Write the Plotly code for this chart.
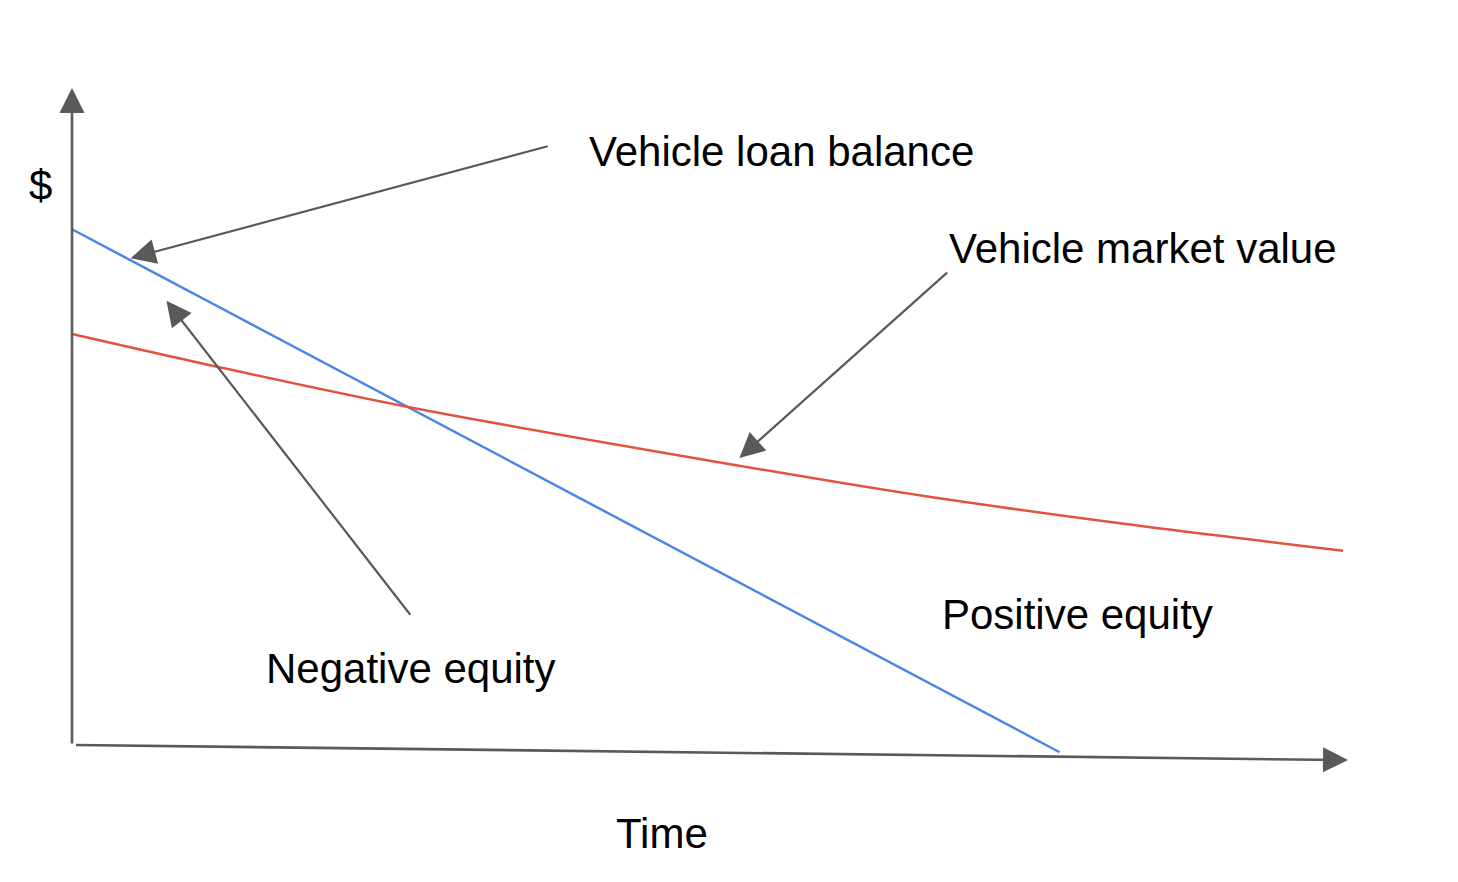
import plotly.graph_objects as go

# Conceptual data (time units 0..10, dollar units 0..10)
loan_time = [0.0, 7.74]
loan_balance = [7.85, -0.11]

market_time = [0.0, 1.136, 2.727, 6.489, 8.213, 9.961]
market_value = [6.256, 5.758, 5.110, 3.846, 3.374, 2.957]

labels = ["$", "Vehicle loan balance", "Vehicle market value",
          "Positive equity", "Negative equity", "Time"]

LOAN_COLOR = "#4a86e8"
MARKET_COLOR = "#e2533f"
ARROW_COLOR = "#595959"
FONT = "Liberation Sans, Arial, sans-serif"

# page has an 8px body margin; figure drawn slightly smaller to fit the window
W, H = 1450, 874
X_PX, Y_PX = 127.6, 65.7        # pixels per unit
X0, Y0 = 64, 737                # figure pixel of origin

fig = go.Figure()
fig.add_trace(go.Scatter(x=loan_time, y=loan_balance, mode="lines",
                         line=dict(color=LOAN_COLOR, width=2.5), hoverinfo="skip"))
fig.add_trace(go.Scatter(x=market_time, y=market_value, mode="lines",
                         line=dict(color=MARKET_COLOR, width=2.5, shape="spline",
                                   smoothing=0.8), hoverinfo="skip"))

def arrow(x, y, ax, ay, width=2.2):
    fig.add_annotation(x=x, y=y, ax=ax, ay=ay, xref="x", yref="y",
                       axref="x", ayref="y", text="", showarrow=True,
                       arrowhead=2, arrowsize=5.0 / width, arrowwidth=width,
                       arrowcolor=ARROW_COLOR, standoff=0, startstandoff=0)

# axes arrows
arrow(0.0, 10.0, 0.0, 0.0, width=2.6)
arrow(10.0, -0.23, 0.02, 0.0, width=2.6)
# pointer arrows
arrow(0.46, 7.41, 3.74, 9.12)
arrow(5.23, 4.37, 6.87, 7.21)
arrow(0.74, 6.76, 2.66, 1.96)

label_pos = [(-0.243, 8.51), (5.56, 9.03), (8.39, 7.56),
             (7.88, 1.99), (2.66, 1.17), (4.62, -1.35)]
for txt, (lx, ly) in zip(labels, label_pos):
    fig.add_annotation(x=lx, y=ly, xref="x", yref="y", text=txt,
                       showarrow=False, xanchor="center", yanchor="middle",
                       font=dict(family=FONT, size=42, color="black"))

fig.update_layout(
    width=W, height=H, autosize=False,
    margin=dict(l=0, r=0, t=0, b=0),
    paper_bgcolor="white", plot_bgcolor="white",
    showlegend=False,
    xaxis=dict(visible=False, range=[-X0 / X_PX, (W - X0) / X_PX], fixedrange=True),
    yaxis=dict(visible=False, range=[(Y0 - H) / Y_PX, Y0 / Y_PX], fixedrange=True),
)

fig.write_html("out.html", config={"displayModeBar": False})
